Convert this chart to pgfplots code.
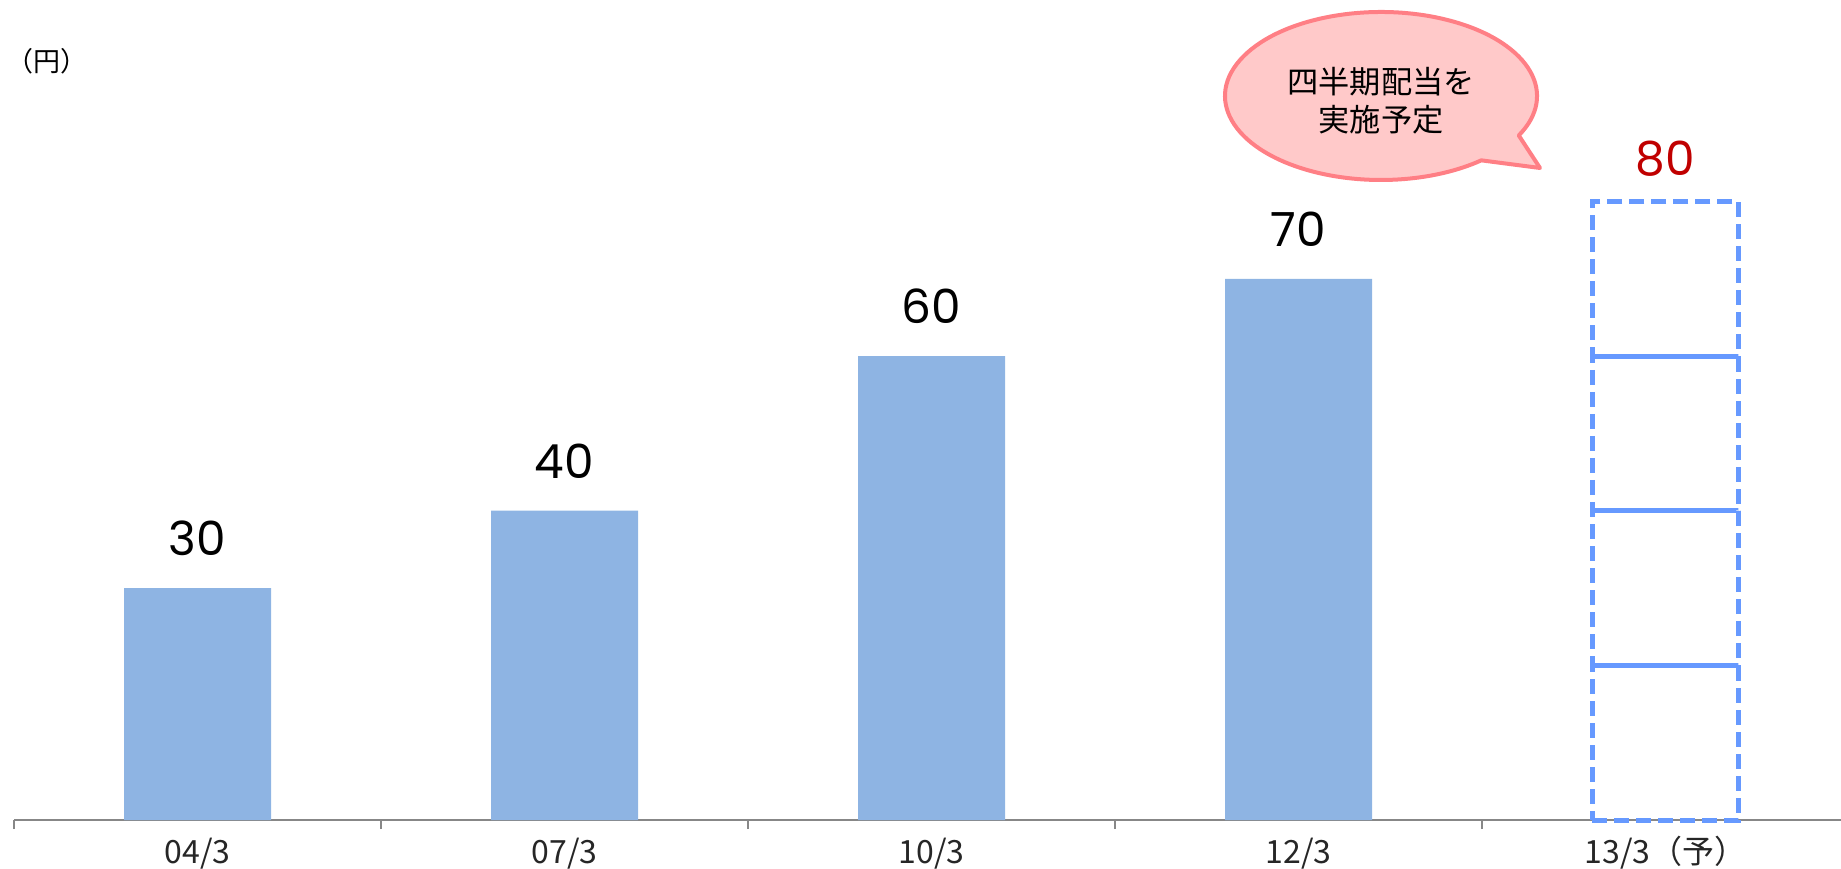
\documentclass[border=0pt]{standalone}
\usepackage{fontspec}
\usepackage{pgfplots}
\pgfplotsset{compat=1.18}
\newfontfamily\cjk{Noto Sans CJK JP}
\newfontfamily\numfont{Poppins}
\definecolor{barblue}{HTML}{8EB4E3}
\definecolor{planblue}{HTML}{6699FF}
\definecolor{axisgray}{HTML}{878787}
\definecolor{balloonfill}{HTML}{FFC9C9}
\definecolor{balloonedge}{HTML}{FF7F85}
\definecolor{planred}{HTML}{C00000}

\begin{document}
\begin{tikzpicture}
\useasboundingbox (0,0) rectangle (920.5pt,434pt);
\begin{axis}[
  scale only axis, width=913.5pt, height=386.6pt,
  at={(7pt,24pt)}, anchor=south west,
  xmin=-0.5, xmax=4.478, ymin=0, ymax=100,
  axis x line=bottom, axis y line=none,
  x axis line style={-, draw=axisgray, line width=1pt},
  xtick={0,...,4},
  xticklabels={04/3,07/3,10/3,12/3,{13/3（予）}},
  major tick length=0pt, minor tick length=4.5pt, tick align=outside,
  minor xtick={-0.5,0.5,1.5,2.5,3.5},
  xtick style={draw=axisgray, line width=1pt},
  xticklabel style={font=\cjk\fontsize{16pt}{16pt}\selectfont, text=black!85, anchor=base, yshift=-21.5pt},
  clip=false,
  /pgf/number format/assume math mode=true,
]
% paid dividends per share
\addplot[ybar, bar width=73.5pt, bar shift=0pt, fill=barblue, draw=none,
  nodes near coords,
  every node near coord/.append style={font=\numfont\fontsize{23.5pt}{23.5pt}\selectfont, anchor=base, yshift=16.3pt, text=black}]
  coordinates {(0,30) (1,40) (2,60) (3,70)};
% planned dividend: four quarterly payments of 20
\addplot[planblue, line width=2.5pt, dash pattern=on 7.5pt off 3.5pt, mark=none]
  coordinates {(3.8,0) (4.2,0) (4.2,20) (3.8,20) (3.8,0)};
\addplot[planblue, line width=2.5pt, dash pattern=on 7.5pt off 3.5pt, mark=none]
  coordinates {(3.8,20) (4.2,20) (4.2,40) (3.8,40) (3.8,20)};
\addplot[planblue, line width=2.5pt, dash pattern=on 7.5pt off 3.5pt, mark=none]
  coordinates {(3.8,40) (4.2,40) (4.2,60) (3.8,60) (3.8,40)};
\addplot[planblue, line width=2.5pt, dash pattern=on 7.5pt off 3.5pt, mark=none]
  coordinates {(3.8,60) (4.2,60) (4.2,80) (3.8,80) (3.8,60)};
% planned total
\addplot[draw=none, mark=none, nodes near coords,
  every node near coord/.append style={font=\numfont\fontsize{23.5pt}{23.5pt}\selectfont, anchor=base, yshift=12.8pt, text=planred}]
  coordinates {(4,80)};
\end{axis}
\node[anchor=west, font=\cjk\fontsize{13.5pt}{13.5pt}\selectfont, inner sep=0pt] at (3pt,403.5pt) {（円）};
% speech balloon
\draw[balloonedge, fill=balloonfill, line width=2pt, line join=round]
  (690.5pt,386pt) ++(-28:78pt and 42pt)
  arc[start angle=-28, end angle=310, x radius=78pt, y radius=42pt]
  -- (770pt,350pt) -- cycle;
\node[font=\cjk\fontsize{15.6pt}{18.8pt}\selectfont, align=center] at (690.5pt,383.5pt) {四半期配当を\\実施予定};
\end{tikzpicture}
\end{document}
